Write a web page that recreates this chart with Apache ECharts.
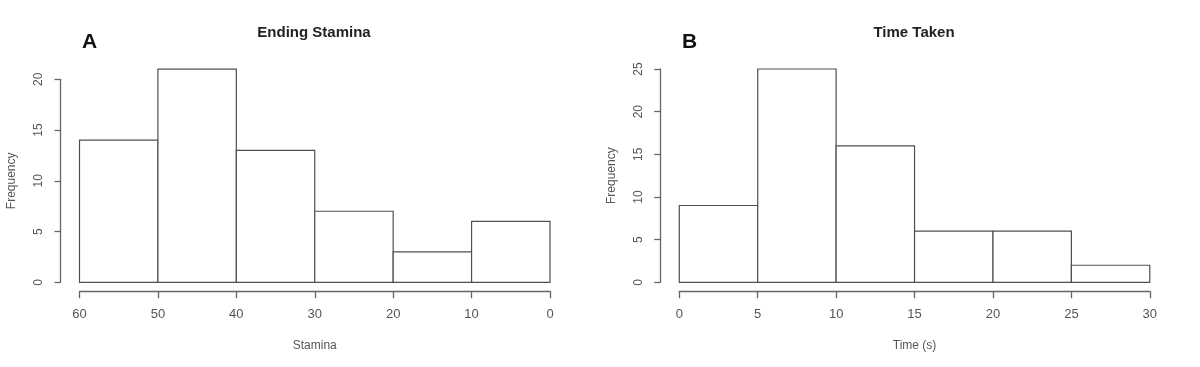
<!DOCTYPE html>
<html>
<head>
<meta charset="utf-8">
<script src="https://cdn.jsdelivr.net/npm/echarts@6/dist/echarts.min.js"></script>
<style>html,body{margin:0;padding:0;background:#fff}#c{width:1200px;height:367px}</style>
</head>
<body>
<div id="c"></div>
<script>
// Panel A: Ending Stamina
const staminaBreaks = [60, 50, 40, 30, 20, 10, 0];
const staminaCounts = [14, 21, 13, 7, 3, 6];
// Panel B: Time Taken
const timeBreaks = [0, 5, 10, 15, 20, 25, 30];
const timeCounts = [9, 25, 16, 6, 6, 2];
const titles = ['Ending Stamina', 'Time Taken'];
const xNames = ['Stamina', 'Time (s)'];
const panelLetters = ['A', 'B'];

function binsData(breaks, counts) {
  return counts.map((c, i) => [breaks[i], breaks[i + 1], c]);
}

const FONT = 'Liberation Sans, Arial, sans-serif';
const AXIS_COLOR = '#666';
const TEXT_COLOR = '#555';

function renderBar(params, api) {
  const a = api.coord([api.value(0), api.value(2)]);
  const b = api.coord([api.value(1), 0]);
  return {
    type: 'rect',
    shape: {
      x: Math.min(a[0], b[0]), y: Math.min(a[1], b[1]),
      width: Math.abs(b[0] - a[0]), height: Math.abs(b[1] - a[1])
    },
    style: { fill: '#fff', stroke: '#505050', lineWidth: 1.2 }
  };
}

function xAxisDef(idx, name, inverse, max, interval) {
  return {
    type: 'value', gridIndex: idx, min: 0, max: max, interval: interval,
    inverse: inverse, position: 'bottom', offset: 9, name: name, nameLocation: 'middle', nameGap: 48,
    nameMoveOverlap: false,
    nameTextStyle: { fontFamily: FONT, fontSize: 12, color: TEXT_COLOR },
    axisLine: { show: true, onZero: false, lineStyle: { color: AXIS_COLOR, width: 1.3 } },
    axisTick: { show: true, length: 7, lineStyle: { color: AXIS_COLOR, width: 1.3 } },
    axisLabel: { fontFamily: FONT, fontSize: 13, color: TEXT_COLOR, margin: 17, showMinLabel: true, showMaxLabel: true },
    splitLine: { show: false }
  };
}

function yAxisDef(idx, max) {
  return {
    type: 'value', gridIndex: idx, min: 0, max: max, interval: 5, position: 'left', offset: 19,
    name: 'Frequency', nameLocation: 'middle', nameGap: 43, nameMoveOverlap: false,
    nameTextStyle: { fontFamily: FONT, fontSize: 12, color: TEXT_COLOR },
    axisLine: { show: true, onZero: false, lineStyle: { color: AXIS_COLOR, width: 1.3 } },
    axisTick: { show: true, length: 6, lineStyle: { color: AXIS_COLOR, width: 1.3 } },
    axisLabel: { fontFamily: FONT, fontSize: 12, color: TEXT_COLOR, rotate: 90, margin: 16, showMinLabel: true, showMaxLabel: true },
    splitLine: { show: false }
  };
}

const chart = echarts.init(document.getElementById('c'), null, { renderer: 'canvas' });
chart.setOption({
  animation: false,
  backgroundColor: '#fff',
  graphic: [
    { type: 'text', x: 314, y: 25, style: { text: titles[0], font: 'bold 15px ' + FONT, fill: '#222', textAlign: 'center', textVerticalAlign: 'top' } },
    { type: 'text', x: 914, y: 25, style: { text: titles[1], font: 'bold 15px ' + FONT, fill: '#222', textAlign: 'center', textVerticalAlign: 'top' } },
    { type: 'text', x: 82, y: 32, style: { text: panelLetters[0], font: 'bold 21px ' + FONT, fill: '#111', textVerticalAlign: 'top' } },
    { type: 'text', x: 682, y: 32, style: { text: panelLetters[1], font: 'bold 21px ' + FONT, fill: '#111', textVerticalAlign: 'top' } }
  ],
  grid: [
    { left: 79.5, top: 79.3, width: 470.5, height: 203 },
    { left: 679.3, top: 69, width: 470.5, height: 213.3 }
  ],
  xAxis: [
    xAxisDef(0, xNames[0], true, 60, 10),
    xAxisDef(1, xNames[1], false, 30, 5)
  ],
  yAxis: [
    yAxisDef(0, 20),
    yAxisDef(1, 25)
  ],
  series: [
    { type: 'custom', xAxisIndex: 0, yAxisIndex: 0, renderItem: renderBar,
      data: binsData(staminaBreaks, staminaCounts), encode: { x: [0, 1], y: 2 }, clip: false, silent: true },
    { type: 'custom', xAxisIndex: 1, yAxisIndex: 1, renderItem: renderBar,
      data: binsData(timeBreaks, timeCounts), encode: { x: [0, 1], y: 2 }, clip: false, silent: true }
  ]
});
</script>
</body>
</html>
